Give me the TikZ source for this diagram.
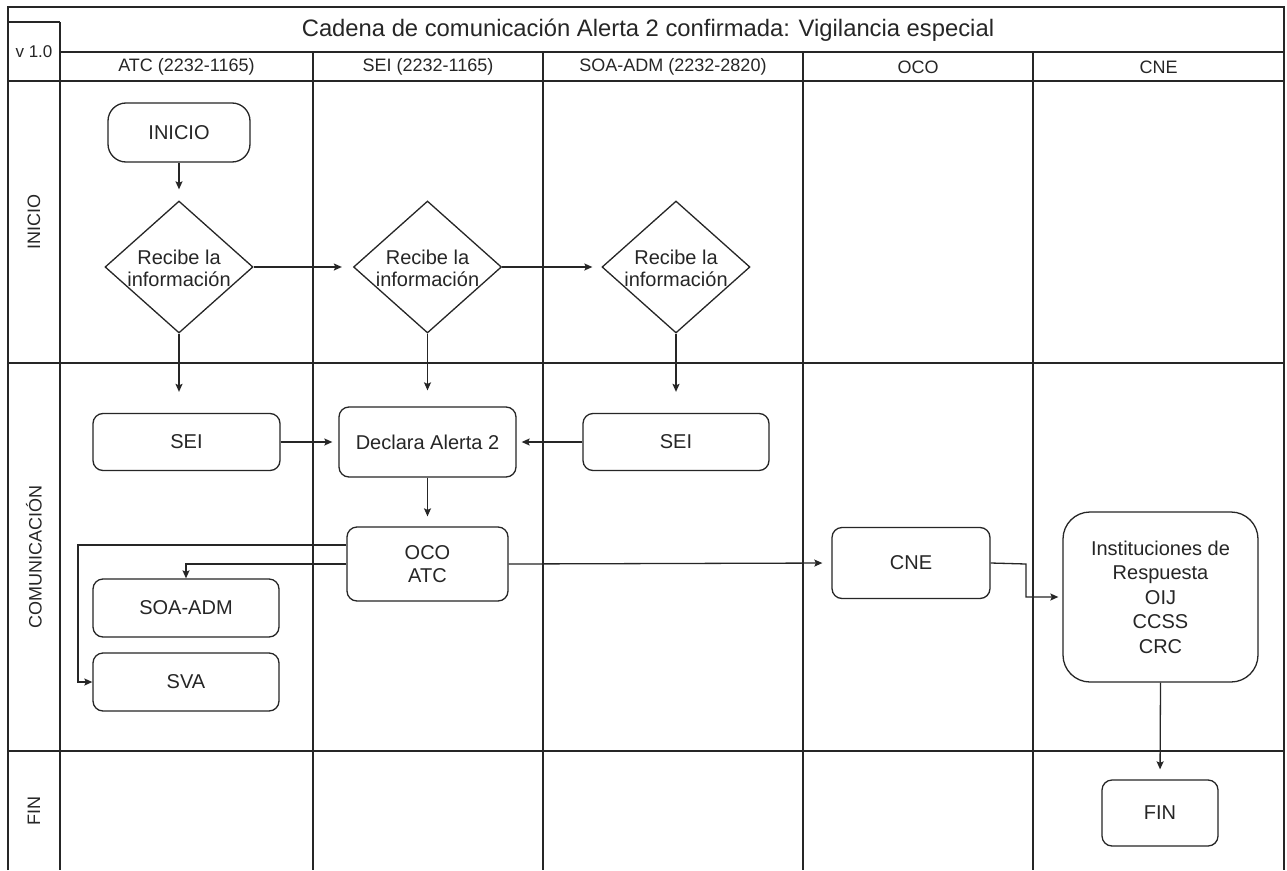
\documentclass[tikz,border=0pt]{standalone}
\usepackage{fontspec}
\setmainfont{Liberation Sans}
\usetikzlibrary{shapes.geometric,arrows.meta}
\begin{document}
\begin{tikzpicture}[x=1pt,y=-1pt,
  lane/.style={line width=1.3pt,draw=black!85},
  box/.style={draw=black!85,line width=1.3pt,rectangle,rounded corners=10pt,align=center,
    font=\fontsize{20}{23.5}\selectfont,text=black!85,inner sep=0pt},
  dia/.style={draw=black!85,line width=1.3pt,diamond,inner sep=0pt,minimum width=148pt,minimum height=132pt},
  lbl/.style={align=center,font=\fontsize{20}{22}\selectfont,text=black!85,inner sep=0pt},
  hdr/.style={font=\fontsize{18}{20}\selectfont,text=black!85,inner sep=0pt},
  arr/.style={draw=black!85,line width=1.3pt,-{Stealth[length=8pt,width=7pt,inset=1.5pt]}},
]
\useasboundingbox (0,0) rectangle (1287,870);
\fill[white] (0,0) rectangle (1287,870);

% frame and lanes
\draw[lane] (8,870) -- (8,7) -- (1284,7) -- (1284,870);
\draw[lane] (8,22) -- (60,22);
\draw[lane] (60,22) -- (60,870);
\draw[lane] (60,52) -- (1284,52);
\draw[lane] (8,81) -- (1284,81);
\draw[lane] (8,363) -- (1284,363);
\draw[lane] (8,751) -- (1284,751);
\foreach \x in {313,543,803,1033} \draw[lane] (\x,52) -- (\x,870);

% header texts
\node[font=\fontsize{23.8}{26}\selectfont,text=black!85,inner sep=0pt] (title) at (648,30) {Cadena de comunicación Alerta 2 confirmada: Vigilancia especial};
\node[hdr,font=\fontsize{17}{20}\selectfont] (ver) at (34,52) {v 1.0};
\node[hdr] (h1) at (186.5,67) {ATC (2232-1165)};
\node[hdr] (h2) at (428,67) {SEI (2232-1165)};
\node[hdr] (h3) at (673,67) {SOA-ADM (2232-2820)};
\node[hdr] (h4) at (918,67) {OCO};
\node[hdr] (h5) at (1158.5,67) {CNE};

\node[hdr,rotate=90] (r1) at (34,222) {INICIO};
\node[hdr,rotate=90] (r2) at (34,557) {COMUNICACIÓN};
\node[hdr,rotate=90] (r3) at (34,811) {FIN};

% nodes
\node[box,rounded corners=18pt,minimum width=142pt,minimum height=59pt] (ini) at (179,132.5) {INICIO};
\node[dia] (d1) at (179,267) {};
\node[lbl] (d1t) at (179,268) {Recibe la\\información};
\node[dia] (d2) at (427.5,267) {};
\node[lbl] (d2t) at (427.5,268) {Recibe la\\información};
\node[dia] (d3) at (676,267) {};
\node[lbl] (d3t) at (676,268) {Recibe la\\información};

\node[box,minimum width=187pt,minimum height=57pt] (sei1) at (186.5,442) {SEI};
\node[box,minimum width=177pt,minimum height=70pt] (dec) at (427.5,442) {Declara Alerta 2};
\node[box,minimum width=186pt,minimum height=57pt] (sei3) at (676,442) {SEI};
\node[box,minimum width=161pt,minimum height=74pt] (oco) at (427.5,564) {OCO\\ATC};
\node[box,minimum width=186pt,minimum height=58pt] (soa) at (186,608) {SOA-ADM};
\node[box,minimum width=186pt,minimum height=58pt] (sva) at (186,682) {SVA};
\node[box,minimum width=158pt,minimum height=71pt] (cne) at (911,563) {CNE};
\node[box,rounded corners=27pt,minimum width=195pt,minimum height=170pt,font=\fontsize{20}{24.5}\selectfont] (inst) at (1160.5,597) {Instituciones de\\Respuesta\\OIJ\\CCSS\\CRC};
\node[box,minimum width=116pt,minimum height=66pt] (fin) at (1160,813) {FIN};

\coordinate (c1) at (78,545);
\coordinate (c2) at (1026,564);

% connectors
\draw[arr,shorten >=11pt] (ini) -- (d1);
\draw[arr,shorten >=11pt] (d1.east) -- (d2.west);
\draw[arr,shorten >=9pt] (d2.east) -- (d3.west);
\draw[arr,shorten >=21pt] (d1.south) -- (d1.south |- sei1.north);
\draw[arr,shorten >=16pt] (d2.south) -- (dec.north);
\draw[arr,shorten >=21pt] (d3.south) -- (d3.south |- sei3.north);
\draw[arr,shorten >=6pt] (sei1.east) -- (dec.west);
\draw[arr,shorten >=5pt] (sei3.west) -- (dec.east);
\draw[arr,shorten >=10pt] (dec.south) -- (oco.north);
\draw[arr,shorten >=9pt] (oco.east) -- (cne.west);
\draw[arr,shorten >=4pt] (cne.east) -- (c2) |- (inst.west);
\draw[arr,shorten >=10pt] (inst.south) -- (fin.north);
\draw[arr] (oco.west) -| (soa.north);
\draw[arr] ([yshift=19pt]oco.west) -- (c1) |- (sva.west);
\end{tikzpicture}
\end{document}
